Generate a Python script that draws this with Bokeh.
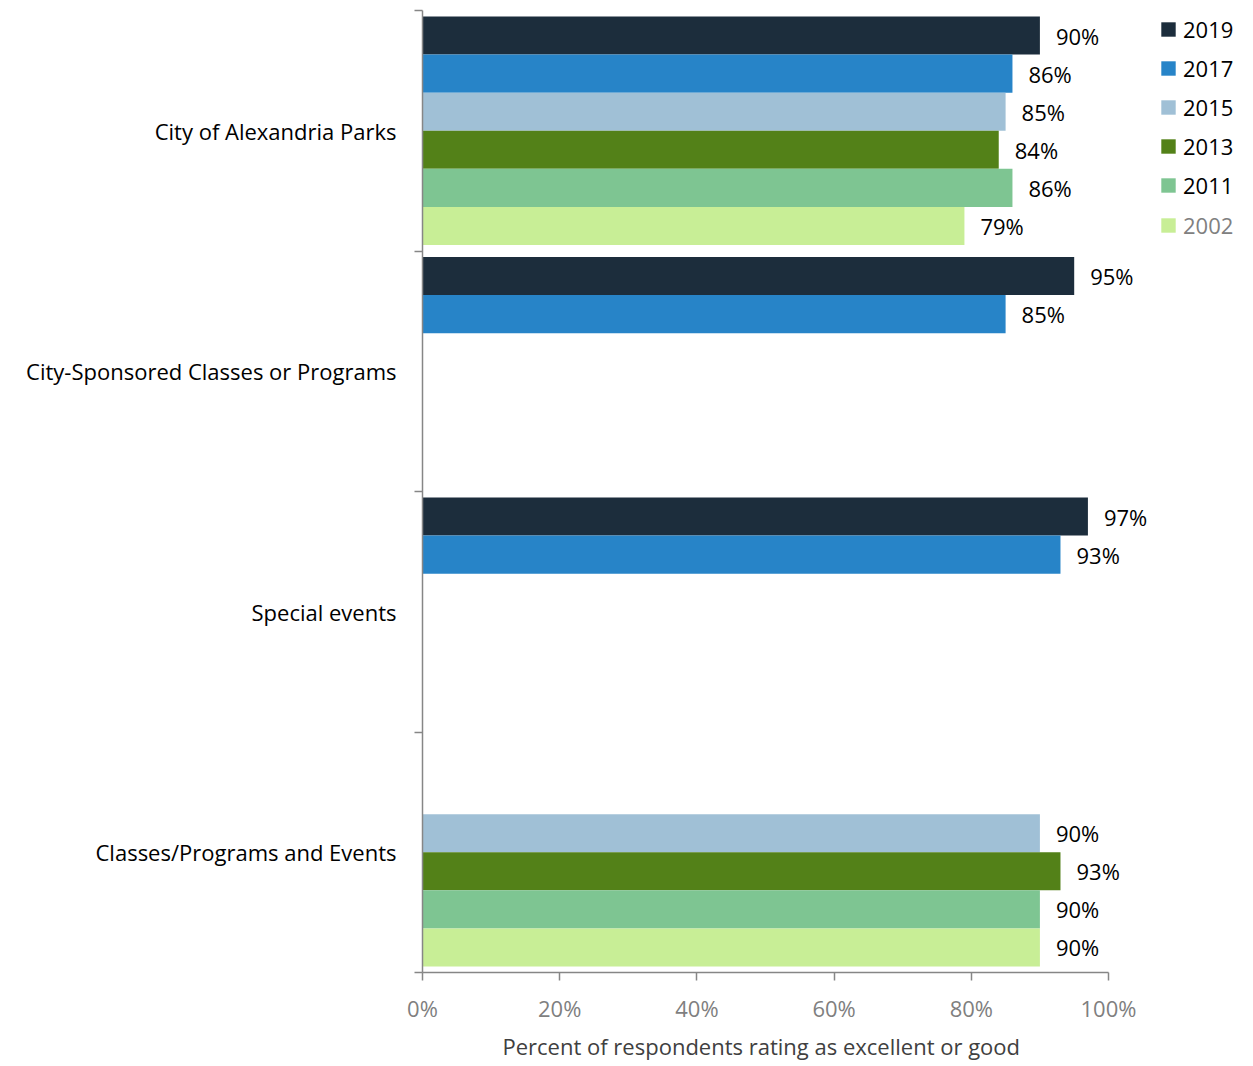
from bokeh.plotting import figure
from bokeh.models import (ColumnDataSource, Range1d, FixedTicker, LabelSet, Legend, LegendItem, Title)
from bokeh.core.properties import value
from bokeh.embed import file_html
from bokeh.resources import INLINE

categories = ["City of Alexandria Parks", "City-Sponsored Classes or Programs",
              "Special events", "Classes/Programs and Events"]
years = ["2019", "2017", "2015", "2013", "2011", "2002"]
colors = ["#1C2D3C", "#2784C8", "#A0C0D6", "#538118", "#7EC592", "#C8EE96"]
values = {
    "2019": [90, 95, 97, None],
    "2017": [86, 85, 93, None],
    "2015": [85, None, None, 90],
    "2013": [84, None, None, 93],
    "2011": [86, None, None, 90],
    "2002": [79, None, None, 90],
}
x_ticks = [0, 20, 40, 60, 80, 100]
x_tick_labels = ["0%", "20%", "40%", "60%", "80%", "100%"]
x_title = "Percent of respondents rating as excellent or good"

FONT = "Open Sans"
FS = "22px"
FW, FH = 828, 962  # frame extends right beyond 100% to hold labels and legend
x_end = 100 * FW / 686.0

p = figure(frame_width=FW, frame_height=FH, output_backend="svg", toolbar_location=None,
           x_range=Range1d(0, x_end), y_range=Range1d(4, 0),
           min_border_left=422, min_border_right=2, min_border_top=10, min_border_bottom=10)
p.outline_line_color = None
p.xgrid.visible = False
p.ygrid.visible = False

pad = 0.025
bh = (1 - 2 * pad) / 6.0

renderers = []
for j, (yr, col) in enumerate(zip(years, colors)):
    xs, ys, labs = [], [], []
    for g, v in enumerate(values[yr]):
        if v is None:
            continue
        xs.append(v)
        ys.append(g + pad + (j + 0.5) * bh)
        labs.append(f"{v}%")
    src = ColumnDataSource(dict(x=xs, y=ys, lab=labs))
    r = p.hbar(y="y", right="x", left=0, height=bh, source=src, fill_color=col, line_color=None)
    renderers.append(r)
    ls = LabelSet(x="x", y="y", text="lab", source=src, x_offset=16, text_align="left",
                  text_baseline="middle", text_font=value(FONT), text_font_size=FS,
                  text_color="#000000")
    p.add_layout(ls)

axis_col = "#868686"
# x axis
xa = p.xaxis[0]
xa.bounds = (0, 100)
xa.ticker = FixedTicker(ticks=x_ticks)
xa.major_label_overrides = {t: l for t, l in zip(x_ticks, x_tick_labels)}
xa.major_tick_in = 0
xa.major_tick_out = 8
xa.minor_tick_out = 0
xa.minor_tick_in = 0
xa.axis_line_color = axis_col
xa.axis_line_width = 1.5
xa.major_tick_line_color = axis_col
xa.major_tick_line_width = 1.5
xa.major_label_text_font = FONT
xa.major_label_text_font_size = FS
xa.major_label_text_color = "#7F7F7F"
xa.major_label_standoff = 12

p.add_layout(Title(text=x_title, align="left", offset=80, text_font=FONT, text_font_size=FS,
                   text_font_style="normal", text_color="#404040", standoff=6), "below")

# y axis
ya = p.yaxis[0]
ya.ticker = FixedTicker(ticks=[0.5, 1.5, 2.5, 3.5], minor_ticks=[0, 1, 2, 3, 4])
ya.major_label_overrides = {i + 0.5: c for i, c in enumerate(categories)}
ya.major_tick_out = 0
ya.major_tick_in = 0
ya.minor_tick_out = 8
ya.minor_tick_in = 0
ya.minor_tick_line_color = axis_col
ya.minor_tick_line_width = 1.5
ya.axis_line_color = axis_col
ya.axis_line_width = 1.5
ya.major_label_text_font = FONT
ya.major_label_text_font_size = FS
ya.major_label_text_color = "#000000"
ya.major_label_standoff = 18

items1 = [LegendItem(label=y, renderers=[r]) for y, r in zip(years[:5], renderers[:5])]
items2 = [LegendItem(label=years[5], renderers=[renderers[5]])]
common = dict(glyph_width=18, glyph_height=18, label_standoff=6, spacing=9,
              label_text_font=FONT, label_text_font_size=FS, padding=0, margin=0,
              border_line_alpha=0, background_fill_alpha=0, label_height=30)
leg1 = Legend(items=items1, location=(737, FH - 4 - (5 * 30 + 4 * 9)), label_text_color="#000000", **common)
leg2 = Legend(items=items2, location=(737, FH - 200 - 30), label_text_color="#808080", **common)
p.add_layout(leg1)
p.add_layout(leg2)

open("out.html", "w").write(file_html(p, INLINE))
